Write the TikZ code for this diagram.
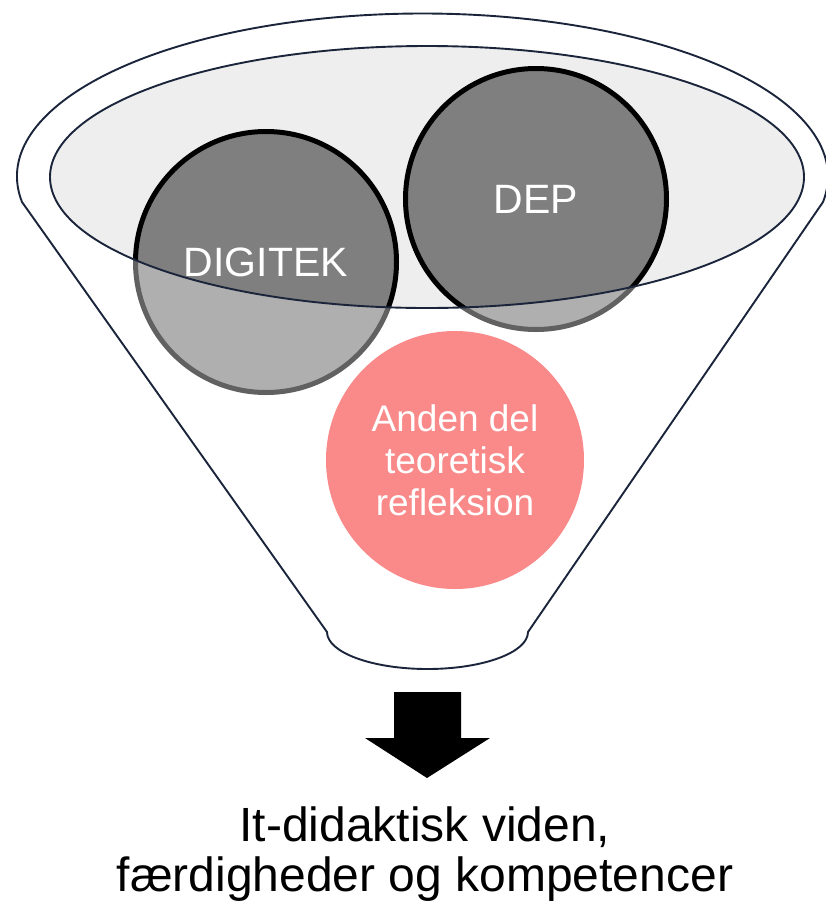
\documentclass[tikz,border=0pt]{standalone}
\usepackage{fontspec}
\setmainfont{Liberation Sans}
\definecolor{funnelline}{RGB}{26,36,58}
\definecolor{innerfill}{RGB}{238,238,238}
\definecolor{ballgray}{RGB}{127,127,127}
\definecolor{rosa}{RGB}{250,138,138}
\tikzset{
  ball/.style={circle, draw=black, line width=5pt, fill=ballgray,
    minimum size=261pt, inner sep=0pt, text=white,
    font=\fontsize{41}{49}\selectfont},
  theory/.style={circle, fill=rosa, minimum size=258pt, inner sep=0pt,
    text=white, align=center, font=\fontsize{37}{42}\selectfont},
  rim/.style={draw=funnelline, line width=1.9pt},
}
\begin{document}
\begin{tikzpicture}[x=1pt, y=-1pt]
  \useasboundingbox (0,0) rectangle (826,903);

  % opening of the funnel
  \fill[innerfill] (427,177) ellipse [x radius=377, y radius=131];

  \node[ball] (digitek) at (266,262) {DIGITEK};
  \node[ball] (dep)     at (536,199) {DEP};

  % front of the funnel, half transparent over the balls
  \fill[white, opacity=0.38, even odd rule]
    (22,202) arc [start angle=171, end angle=369, x radius=405.5, y radius=163]
    -- (528,632) arc [start angle=0, end angle=180, x radius=100.5, y radius=37]
    -- cycle
    (427,177) ellipse [x radius=377, y radius=131];

  \draw[rim] (427,177) ellipse [x radius=377, y radius=131];
  \draw[rim]
    (22,202) arc [start angle=171, end angle=369, x radius=405.5, y radius=163]
    -- (528,632) arc [start angle=0, end angle=180, x radius=100.5, y radius=37]
    -- cycle;

  \node[theory] (teori) at (455,460) {Anden del\\teoretisk\\refleksion};

  % arrow out of the funnel
  \fill[black] (394,692) -- (461,692) -- (461,738) -- (490,738)
    -- (427,778) -- (365,738) -- (394,738) -- cycle;

  \node[align=center, font=\fontsize{48}{50}\selectfont, anchor=base]
    (resultat) at (425,891) {It-didaktisk viden,\\færdigheder og kompetencer};
\end{tikzpicture}
\end{document}
